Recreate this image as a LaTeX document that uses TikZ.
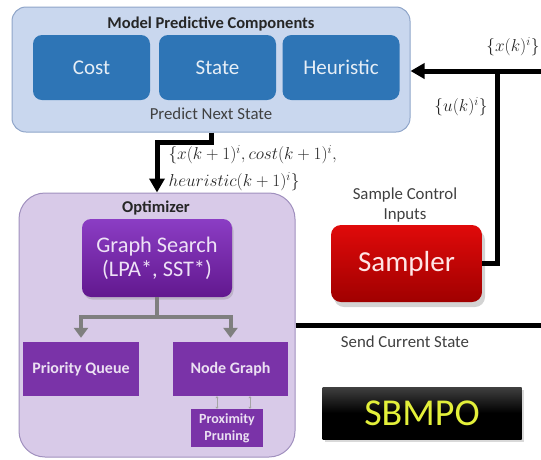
\documentclass[tikz,border=0pt]{standalone}
\usepackage{fontspec}
\setmainfont{Carlito}
\usetikzlibrary{arrows.meta,shadows}

\definecolor{mpcfill}{HTML}{C9D7EE}
\definecolor{mpcline}{HTML}{8FA5C9}
\definecolor{compblue}{HTML}{2E75B6}
\definecolor{optfill}{HTML}{D8CAE8}
\definecolor{optline}{HTML}{A090BE}
\definecolor{gsTop}{HTML}{8B3DC4}
\definecolor{gsBot}{HTML}{62188F}
\definecolor{boxpurple}{HTML}{7A33A8}
\definecolor{textgrey}{HTML}{404040}
\definecolor{samplerTop}{HTML}{E00A0A}
\definecolor{samplerBot}{HTML}{A00000}
\definecolor{sbyellow}{HTML}{E3F03A}
\definecolor{treegrey}{HTML}{7F7F7F}

\tikzset{
  mpcpanel/.style={draw=mpcline, fill=mpcfill, line width=1pt, rounded corners=14pt, inner sep=0pt},
  optpanel/.style={draw=optline, fill=optfill, line width=1pt, rounded corners=26pt, inner sep=0pt},
  comp/.style={fill=compblue, text=white!88!compblue, rounded corners=9pt, inner sep=0pt,
    minimum width=117pt, minimum height=65pt, font=\fontsize{21}{21}\selectfont},
  gsbox/.style={top color=gsTop, bottom color=gsBot, text=white!85!gsTop, rounded corners=9pt,
    inner sep=0pt, minimum width=150pt, minimum height=78pt, align=center,
    font=\fontsize{22.3}{24}\selectfont,
    drop shadow={shadow xshift=1.5pt, shadow yshift=-2.5pt, opacity=0.3}},
  optbox/.style={fill=boxpurple, text=white!85!boxpurple, inner sep=0pt, align=center,
    font=\bfseries\fontsize{16}{17}\selectfont},
  samplerbox/.style={top color=samplerTop, bottom color=samplerBot, text=white!90!red,
    rounded corners=10pt, inner sep=0pt, minimum width=151pt, minimum height=77pt,
    font=\fontsize{29}{29}\selectfont,
    drop shadow={shadow xshift=3pt, shadow yshift=-5pt, opacity=0.35}},
  sbmpobox/.style={top color=black!75, bottom color=black, middle color=black, text=sbyellow,
    inner sep=0pt, minimum width=199pt, minimum height=52pt,
    font=\fontsize{38}{38}\selectfont,
    drop shadow={shadow xshift=2pt, shadow yshift=-3pt, opacity=0.3}},
  headtxt/.style={text=black!85, font=\bfseries\fontsize{16.5}{16.5}\selectfont},
  labtxt/.style={text=textgrey, align=center, font=\fontsize{16.8}{20}\selectfont},
  mathtxt/.style={text=black!85, align=left, font=\fontsize{17}{27}\selectfont},
  bigline/.style={line width=5pt},
  bigarrow/.style={line width=5pt, -{Triangle[width=15pt,length=14pt]}},
  treearrow/.style={treegrey, line width=4pt, -{Triangle[width=14pt,length=10pt]}, shorten >=4pt},
  tinyarrow/.style={treegrey!70, line width=1pt, {Triangle[width=3pt,length=2pt]}-{Triangle[width=3pt,length=2pt]}}
}

\begin{document}
\begin{tikzpicture}[x=1pt,y=-1pt]
  \useasboundingbox (0,0) rectangle (541,459);

  % model predictive components
  \node[mpcpanel, minimum width=398pt, minimum height=125pt] (mpc) at (211,69.5) {};
  \node[headtxt] (mpcTitle) at (211,24) {Model Predictive Components};
  \node[comp] (cost) at (91.5,67.5) {Cost};
  \node[comp] (state) at (217.5,67.5) {State};
  \node[comp] (heur) at (341,67.5) {Heuristic};
  \node[labtxt] (predict) at (211,114) {Predict Next State};

  % optimizer
  \node[optpanel, minimum width=276pt, minimum height=264pt] (opt) at (157,325) {};
  \node[headtxt] (optTitle) at (156,208) {Optimizer};
  \node[gsbox] (gsearch) at (157,258) {Graph Search\\(LPA*, SST*)};
  \node[optbox, minimum width=116pt, minimum height=54pt] (pqueue) at (81,369) {Priority Queue};
  \node[optbox, minimum width=115pt, minimum height=54pt] (ngraph) at (230.5,369) {Node Graph};
  \node[optbox, minimum width=72pt, minimum height=38pt,
        font=\bfseries\fontsize{14}{17}\selectfont] (prune) at (227,428) {Proximity\\Pruning};

  \draw[treearrow] (gsearch.south) -- ++(0,20) -| (pqueue.north);
  \draw[treearrow] (gsearch.south) -- ++(0,20) -| (ngraph.north);
  \draw[tinyarrow] ([xshift=-10pt]prune.north) -- ([xshift=-10pt]prune.north |- ngraph.south);
  \draw[tinyarrow] ([xshift=23pt]prune.north) -- ([xshift=23pt]prune.north |- ngraph.south);

  % sampler side
  \node[labtxt] (sampleLbl) at (405,205) {Sample Control\\Inputs};
  \node[samplerbox] (sampler) at (406.5,263.5) {Sampler};
  \node[sbmpobox] (sbmpo) at (422,413) {SBMPO};

  \coordinate (xin) at (545,71);
  \coordinate (turn) at (497,71);
  \coordinate (sendEnd) at (545,325);

  \draw[bigarrow] (xin) -- (mpc.east |- xin);
  \draw[bigline] (turn) |- (sampler.east);
  \draw[bigline] (opt.east) -- (sendEnd);
  \draw[bigarrow] (mpc.south) -- ++(0,10) -| (opt.north);

  % labels
  \node[mathtxt, anchor=east] (xLbl) at (543,47) {$\{x(k)^i\}$};
  \node[mathtxt] (uLbl) at (461,107) {$\{u(k)^i\}$};
  \node[mathtxt, anchor=west] (nextLbl) at (165,168)
    {$\{x(k+1)^i, cost(k+1)^i,$\\$heuristic(k+1)^i\}$};
  \node[labtxt] (sendLbl) at (405,342) {Send Current State};
\end{tikzpicture}
\end{document}
